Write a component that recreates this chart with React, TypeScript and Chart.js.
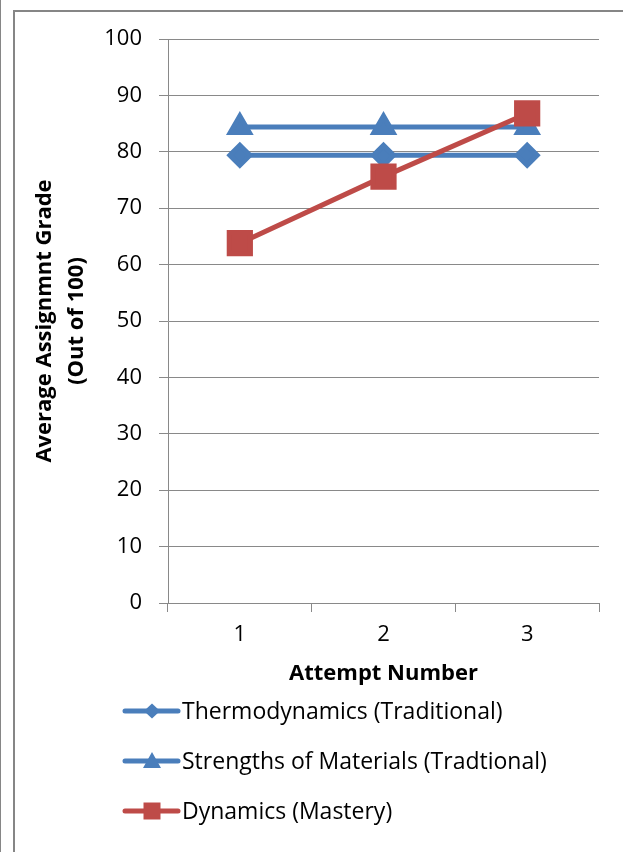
import React, { useEffect, useRef } from 'react';
import { Chart, registerables } from 'chart.js';

Chart.register(...registerables);

const categories = ['1', '2', '3'];
const thermodynamics = [79.4, 79.4, 79.4];
const strengths = [84.4, 84.4, 84.4];
const dynamics = [63.8, 75.6, 86.8];
const seriesLabels = [
  'Thermodynamics (Traditional)',
  'Strengths of Materials (Tradtional)',
  'Dynamics (Mastery)',
];
const yTitleLines = ['Average Assignmnt Grade', '(Out of 100)'];
const xTitle = 'Attempt Number';

const BLUE = '#4A7EBB';
const RED = '#BE4B48';
const GRID = '#898989';
const FONT = "'Open Sans', 'Noto Sans', sans-serif";

const framePlugin = {
  id: 'frame',
  beforeDraw(chart: any) {
    const { ctx, width, height } = chart;
    ctx.save();
    ctx.fillStyle = '#ffffff';
    ctx.fillRect(0, 0, width, height);
    ctx.strokeStyle = '#868686';
    ctx.lineWidth = 1;
    ctx.beginPath();
    ctx.moveTo(0.5, 0);
    ctx.lineTo(0.5, height);
    ctx.stroke();
    ctx.lineWidth = 2;
    ctx.beginPath();
    ctx.moveTo(14, height);
    ctx.lineTo(14, 11);
    ctx.lineTo(width, 11);
    ctx.stroke();
    ctx.restore();
  },
};

function drawMarker(ctx: CanvasRenderingContext2D, style: string, x: number, y: number) {
  ctx.beginPath();
  if (style === 'rectRot') {
    ctx.moveTo(x, y - 7.5);
    ctx.lineTo(x + 8, y);
    ctx.lineTo(x, y + 7.5);
    ctx.lineTo(x - 8, y);
  } else if (style === 'triangle') {
    ctx.moveTo(x, y - 9);
    ctx.lineTo(x + 9, y + 7);
    ctx.lineTo(x - 9, y + 7);
  } else {
    ctx.rect(x - 8.5, y - 8.5, 17, 17);
  }
  ctx.closePath();
  ctx.fill();
}

const legendPlugin = {
  id: 'stackLegend',
  afterDraw(chart: any) {
    const { ctx } = chart;
    const bottom = chart.chartArea.bottom;
    chart.data.datasets.forEach((ds: any, i: number) => {
      const y = bottom + 108 + i * 50;
      ctx.save();
      ctx.strokeStyle = ds.borderColor;
      ctx.fillStyle = ds.borderColor;
      ctx.lineWidth = 5;
      ctx.lineCap = 'round';
      ctx.beginPath();
      ctx.moveTo(125, y);
      ctx.lineTo(178, y);
      ctx.stroke();
      drawMarker(ctx, ds.pointStyle, 152, y);
      ctx.fillStyle = '#000000';
      ctx.font = `23px ${FONT}`;
      ctx.textBaseline = 'middle';
      ctx.textAlign = 'left';
      ctx.fillText(ds.label, 182, y + 1);
      ctx.restore();
    });
  },
};

export default function App() {
  const ref = useRef<HTMLCanvasElement | null>(null);

  useEffect(() => {
    if (!ref.current) return;
    const chart = new Chart(ref.current, {
      type: 'line',
      data: {
        labels: categories,
        datasets: [
          {
            label: seriesLabels[0],
            data: thermodynamics,
            borderColor: BLUE,
            backgroundColor: BLUE,
            pointBackgroundColor: BLUE,
            pointBorderColor: BLUE,
            pointStyle: 'rectRot',
            pointRadius: 10,
            borderWidth: 5,
            tension: 0,
            order: 2,
          },
          {
            label: seriesLabels[1],
            data: strengths,
            borderColor: BLUE,
            backgroundColor: BLUE,
            pointBackgroundColor: BLUE,
            pointBorderColor: BLUE,
            pointStyle: 'triangle',
            pointRadius: 11,
            borderWidth: 5,
            tension: 0,
            order: 1,
          },
          {
            label: seriesLabels[2],
            data: dynamics,
            borderColor: RED,
            backgroundColor: RED,
            pointBackgroundColor: RED,
            pointBorderColor: RED,
            pointStyle: 'rect',
            pointRadius: 15,
            borderWidth: 5,
            tension: 0,
            order: 0,
          },
        ],
      },
      options: {
        animation: false,
        responsive: false,
        devicePixelRatio: 1,
        layout: { padding: { left: 29, top: 39, right: 24, bottom: 165 } },
        plugins: {
          legend: { display: false },
          tooltip: { enabled: false },
        },
        scales: {
          x: {
            type: 'category',
            offset: true,
            grid: {
              display: true,
              drawOnChartArea: false,
              drawTicks: true,
              tickLength: 9,
              offset: true,
              color: GRID,
              lineWidth: 1,
            },
            border: { display: true, color: GRID, width: 1 },
            ticks: {
              color: '#000000',
              font: { family: FONT, size: 22 },
              padding: 10,
            },
            title: {
              display: true,
              text: xTitle,
              color: '#000000',
              font: { family: FONT, size: 22, weight: 'bold' },
              padding: { top: 0, bottom: 0 },
            },
            afterFit: (scale: any) => {
              scale.height = 84;
            },
          },
          y: {
            type: 'linear',
            min: 0,
            max: 100,
            grid: {
              color: GRID,
              lineWidth: 1,
              tickLength: 9,
              drawTicks: true,
            },
            border: { display: true, color: GRID, width: 1 },
            ticks: {
              stepSize: 10,
              color: '#000000',
              font: { family: FONT, size: 22 },
              padding: 17,
            },
            title: {
              display: true,
              text: yTitleLines,
              color: '#000000',
              font: { family: FONT, size: 22, weight: 'bold', lineHeight: 1.45 },
              padding: { top: 0, bottom: 0 },
            },
            afterFit: (scale: any) => {
              scale.width = 139;
            },
          },
        },
      },
      plugins: [framePlugin, legendPlugin],
    } as any);
    return () => chart.destroy();
  }, []);

  return (
    <div style={{ position: 'absolute', left: 0, top: 0, width: 623, height: 852 }}>
      <canvas ref={ref} width={623} height={852} style={{ display: 'block', width: 623, height: 852 }} />
    </div>
  );
}
